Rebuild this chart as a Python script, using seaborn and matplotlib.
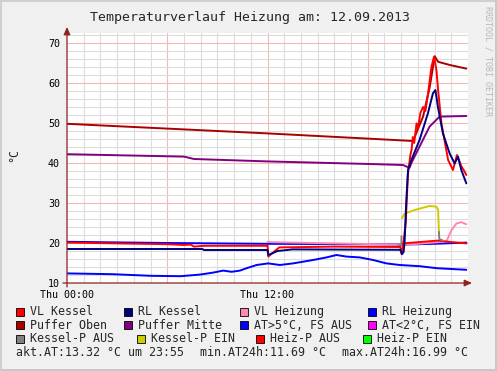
"""
Temperaturverlauf Heizung - RRDtool style daily chart rebuilt with seaborn.
"""

import matplotlib
matplotlib.use("Agg")
import matplotlib.pyplot as plt
from matplotlib.patches import Rectangle
import seaborn as sns

# hours since Thu 00:00 and temperatures in degC
h_puffer_oben = [0.0, 6.0, 12.0, 18.0, 20.71, 21.31, 21.71, 22.01, 22.21, 22.91, 23.9]
puffer_oben = [49.8, 48.6, 47.4, 46.1, 45.5, 51.6, 59.0, 66.7, 65.3, 64.5, 63.6]

h_puffer_mitte = [0.0, 7.0, 7.6, 12.0, 18.1, 20.1, 20.5, 20.6, 21.1, 21.7, 22.3, 23.9]
puffer_mitte = [42.2, 41.6, 41.0, 40.4, 39.75, 39.5, 38.8, 39.9, 44.1, 49.1, 51.6, 51.75]

h_outdoor = [0.0, 2.75, 5.0, 6.8, 7.95, 8.75, 9.35, 9.85, 10.35, 10.75, 11.35, 12.04,
             12.74, 13.53, 14.73, 15.53, 16.13, 16.73, 17.52, 18.32, 19.12, 19.92,
             21.11, 22.13, 23.9]
outdoor = [12.4, 12.2, 11.8, 11.7, 12.1, 12.6, 13.1, 12.8, 13.1, 13.7, 14.5, 14.9,
           14.5, 14.9, 15.75, 16.4, 17.0, 16.6, 16.4, 15.75, 14.9, 14.5,
           14.2, 13.7, 13.3]

h_rl_heizung = [0.0, 6.0, 12.0, 18.0, 20.1, 22.0, 23.9]
rl_heizung = [20.3, 20.0, 19.8, 19.7, 19.6, 19.8, 20.1]

h_vl_heizung = [12.0, 12.3, 16.0, 20.0, 21.0, 22.5, 22.71, 23.01, 23.31, 23.6, 23.9]
vl_heizung = [20.3, 20.2, 19.9, 19.6, 19.8, 20.3, 20.4, 23.2, 24.9, 25.2, 24.7]

h_heiz_p = [19.9, 20.1, 21.0, 22.2, 22.6, 23.9]
heiz_p = [19.1, 19.9, 20.2, 20.6, 20.4, 19.9]

h_kessel_p_aus = [19.8, 20.01, 20.02]
kessel_p_aus = [19.4, 19.4, 21.7]
h_kessel_p_ein = [20.05, 20.2, 20.8, 21.7, 22.1, 22.21, 22.26]
kessel_p_ein = [26.2, 27.3, 28.25, 29.25, 29.1, 28.3, 22.8]
h_kessel_p_aus2 = [22.26, 22.28, 22.5]
kessel_p_aus2 = [22.8, 21.0, 20.6]

h_vl_kessel = [0.0, 6.0, 7.0, 7.4, 7.6, 8.2, 12.0, 12.05, 12.7, 16.0, 19.95, 20.02,
               20.11, 20.27, 20.41, 20.55, 20.62, 20.7, 20.78, 20.92, 21.0, 21.15,
               21.31, 21.45, 21.61, 21.81, 21.97, 22.11, 22.21, 22.41, 22.81, 23.1,
               23.34, 23.61, 23.75, 23.9]
vl_kessel = [20.1, 19.7, 19.5, 19.6, 19.1, 19.3, 19.3, 16.6, 18.9, 19.1, 19.0, 17.3,
             19.1, 25.0, 37.4, 42.0, 43.25, 46.5, 45.0, 49.9, 48.5, 52.5,
             54.0, 53.0, 57.4, 64.0, 66.6, 63.25, 58.25, 49.9, 40.75, 38.25,
             42.0, 39.1, 38.2, 37.0]

h_rl_kessel = [0.0, 8.1, 8.2, 12.0, 12.05, 12.6, 13.5, 19.95, 20.05, 20.15, 20.21,
               20.31, 20.41, 20.61, 21.1, 21.6, 21.9, 22.05, 22.2, 22.5, 22.9, 23.2,
               23.4, 23.6, 23.9]
rl_kessel = [18.5, 18.5, 18.25, 18.25, 17.0, 18.0, 18.4, 18.3, 17.2, 17.8, 20.75,
             30.75, 38.25, 40.75, 45.75, 52.4, 57.4, 58.25, 54.0, 47.4, 42.4, 39.9,
             41.6, 38.25, 34.9]

# legend rows (label, colour)
legend_rows = [
    [("VL Kessel", "#ff0000"), ("RL Kessel", "#000080"),
     ("VL Heizung", "#ff88b0"), ("RL Heizung", "#0000ff")],
    [("Puffer Oben", "#aa0000"), ("Puffer Mitte", "#800080"),
     ("AT>5°C, FS AUS", "#0000ff"), ("AT<2°C, FS EIN", "#ff00ff")],
    [("Kessel-P AUS", "#808080"), ("Kessel-P EIN", "#cccc00"),
     ("Heiz-P AUS", "#ff0000"), ("Heiz-P EIN", "#00ff00")],
]
legend_x = [[16, 124, 240, 368], [16, 124, 240, 368], [16, 137, 256, 363]]
legend_y = [311.5, 325.3, 339.0]
footer = ["akt.AT:13.32 °C um 23:55", "min.AT24h:11.69 °C", "max.AT24h:16.99 °C"]
footer_x = [16, 200, 342]

W, H = 497, 371
sns.set_style("white")
plt.rcParams["font.family"] = ["DejaVu Sans Mono", "DejaVu Sans"]

fig = plt.figure(figsize=(W / 100, H / 100), dpi=100, facecolor="#f0f0f0")
ax = fig.add_axes([67 / W, (H - 283) / H, (468 - 67) / W, (283 - 33) / H])
ax.set_facecolor("white")
ax.set_xlim(0, 24)
ax.set_ylim(10, 72.5)

# grid: minor grey, major light red
for hh in range(1, 24):
    c = "#f2b8b8" if hh % 6 == 0 else "#dcdcdc"
    ax.axvline(hh, color=c, lw=0.8, zorder=0)
for yy in range(12, 73, 2):
    c = "#f2b8b8" if yy % 10 == 0 else "#dcdcdc"
    ax.axhline(yy, color=c, lw=0.8, zorder=0)

lw = 1.4
series = [
    (h_outdoor, outdoor, "#0000ff"),
    (h_rl_heizung, rl_heizung, "#0000ff"),
    (h_vl_heizung, vl_heizung, "#ff88b0"),
    (h_heiz_p, heiz_p, "#ff0000"),
    (h_kessel_p_aus, kessel_p_aus, "#808080"),
    (h_kessel_p_ein, kessel_p_ein, "#cccc00"),
    (h_kessel_p_aus2, kessel_p_aus2, "#808080"),
    (h_puffer_oben, puffer_oben, "#aa0000"),
    (h_puffer_mitte, puffer_mitte, "#800080"),
    (h_vl_kessel, vl_kessel, "#ff0000"),
    (h_rl_kessel, rl_kessel, "#000080"),
]
for xs, ys, col in series:
    sns.lineplot(x=xs, y=ys, color=col, lw=lw, ax=ax, estimator=None,
                 sort=False, zorder=3)

for s in ax.spines.values():
    s.set_visible(False)

ax.set_xticks([0, 6, 12, 18])
ax.set_xticklabels(["Thu 00:00", "", "Thu 12:00", ""], fontsize=7.2)
ax.set_xticks(range(0, 24), minor=True)
ax.set_yticks(range(10, 71, 10))
ax.set_yticklabels([str(v) for v in range(10, 71, 10)], fontsize=7.2)
ax.tick_params(axis="both", which="major", length=3, width=0.8, color="#e08080",
               pad=2, labelcolor="black")
ax.tick_params(axis="both", which="minor", length=2, width=0.6, color="#c0c0c0")
ax.set_xlabel("")
ax.set_ylabel("")

# axis lines with arrow heads
arrow = dict(arrowstyle="-|>,head_length=0.45,head_width=0.2", color="#902020", lw=0.9,
             shrinkA=0, shrinkB=0)
ax.annotate("", xy=(472 / W, (H - 283) / H), xytext=(63 / W, (H - 283) / H),
            xycoords="figure fraction", arrowprops=arrow, annotation_clip=False)
ax.annotate("", xy=(67 / W, (H - 27) / H), xytext=(67 / W, (H - 287) / H),
            xycoords="figure fraction", arrowprops=arrow, annotation_clip=False)

fig.text(250 / W, 1 - 17 / H, "Temperaturverlauf Heizung am: 12.09.2013",
         ha="center", va="center", fontsize=9.5)
fig.text(14 / W, 1 - 155 / H, "°C", rotation=90, ha="center", va="center",
         fontsize=8.4)
fig.text(488 / W, 1 - 6 / H, "RRDTOOL / TOBI OETIKER", rotation=270, ha="center",
         va="top", fontsize=6, color="#b8b8b8")

for r, row in enumerate(legend_rows):
    for c, (label, col) in enumerate(row):
        x0 = legend_x[r][c]
        y0 = legend_y[r]
        fig.patches.append(Rectangle((x0 / W, 1 - (y0 + 4) / H), 8 / W, 8 / H,
                                     transform=fig.transFigure, facecolor=col,
                                     edgecolor="black", lw=0.6))
        fig.text((x0 + 14) / W, 1 - y0 / H, label, ha="left", va="center",
                 fontsize=8.4)
for txt, x0 in zip(footer, footer_x):
    fig.text(x0 / W, 1 - 353 / H, txt, ha="left", va="center", fontsize=8.4)

# 3d frame
fig.patches.append(Rectangle((0, 0), 2 / W, 1, transform=fig.transFigure,
                             facecolor="#d0d0d0", lw=0))
fig.patches.append(Rectangle((0, 1 - 2 / H), 1, 2 / H, transform=fig.transFigure,
                             facecolor="#d0d0d0", lw=0))
fig.patches.append(Rectangle((1 - 2 / W, 0), 2 / W, 1, transform=fig.transFigure,
                             facecolor="#c8c8c8", lw=0))
fig.patches.append(Rectangle((0, 0), 1, 2 / H, transform=fig.transFigure,
                             facecolor="#c8c8c8", lw=0))

fig.savefig("out.png", dpi=100, facecolor=fig.get_facecolor())
